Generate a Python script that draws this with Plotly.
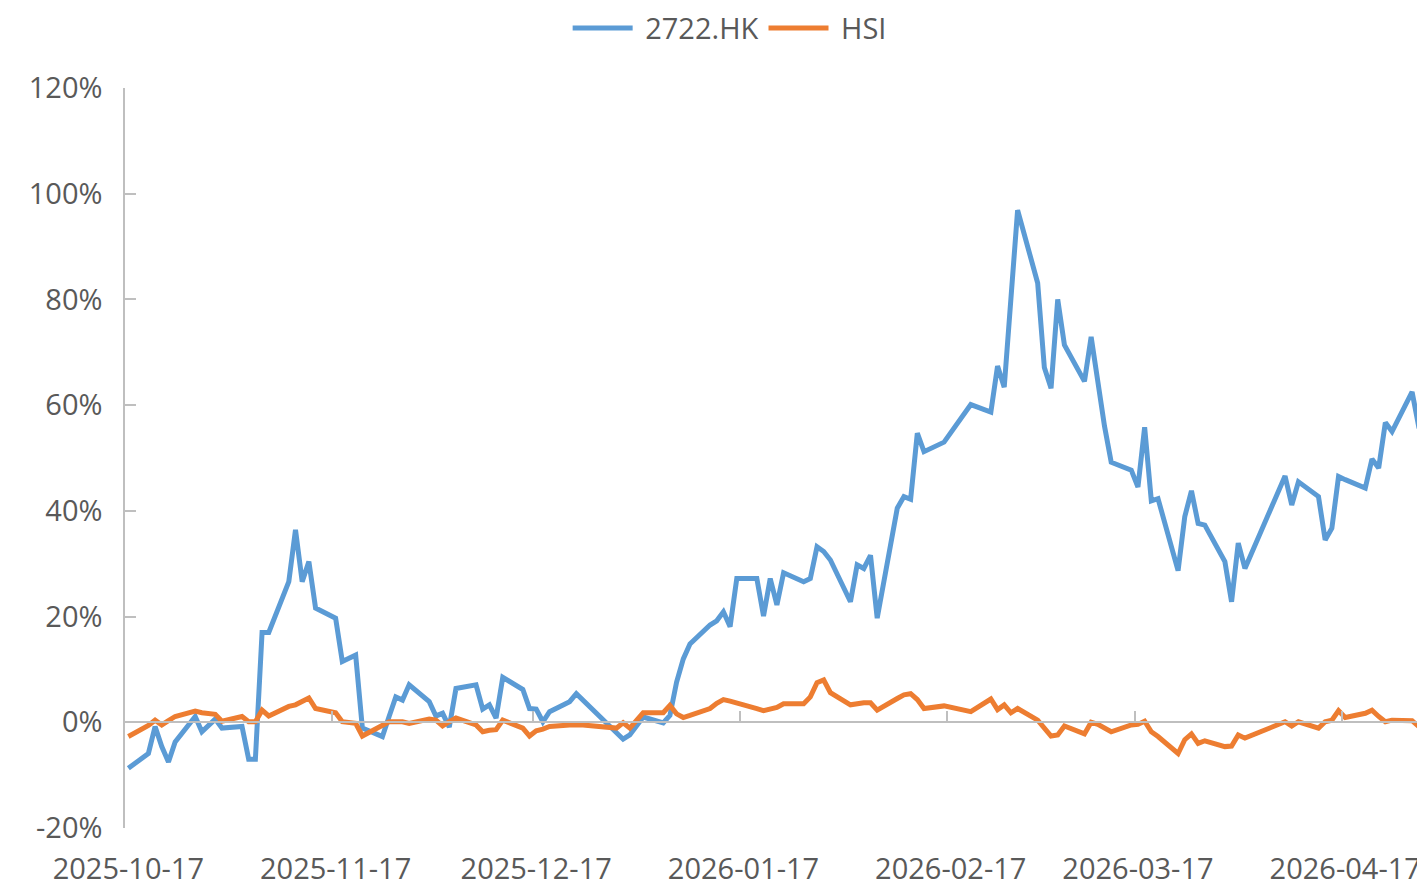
import pandas as pd
import plotly.graph_objects as go

dates = [
    "2025-10-17", "2025-10-20", "2025-10-21", "2025-10-22", "2025-10-23", "2025-10-24",
    "2025-10-27", "2025-10-28", "2025-10-30", "2025-10-31",
    "2025-11-03", "2025-11-04", "2025-11-05", "2025-11-06", "2025-11-07",
    "2025-11-10", "2025-11-11", "2025-11-12", "2025-11-13", "2025-11-14",
    "2025-11-17", "2025-11-18", "2025-11-19", "2025-11-20", "2025-11-21",
    "2025-11-24", "2025-11-25", "2025-11-26", "2025-11-27", "2025-11-28",
    "2025-12-01", "2025-12-02", "2025-12-03", "2025-12-04", "2025-12-05",
    "2025-12-08", "2025-12-09", "2025-12-10", "2025-12-11", "2025-12-12",
    "2025-12-15", "2025-12-16", "2025-12-17", "2025-12-18", "2025-12-19",
    "2025-12-22", "2025-12-23", "2025-12-24", "2025-12-29", "2025-12-30", "2025-12-31",
    "2026-01-02", "2026-01-05", "2026-01-06", "2026-01-07", "2026-01-08", "2026-01-09",
    "2026-01-12", "2026-01-13", "2026-01-14", "2026-01-15", "2026-01-16",
    "2026-01-19", "2026-01-20", "2026-01-21", "2026-01-22", "2026-01-23",
    "2026-01-26", "2026-01-27", "2026-01-28", "2026-01-29", "2026-01-30",
    "2026-02-02", "2026-02-03", "2026-02-04", "2026-02-05", "2026-02-06",
    "2026-02-09", "2026-02-10", "2026-02-11", "2026-02-12", "2026-02-13",
    "2026-02-16", "2026-02-20", "2026-02-23", "2026-02-24", "2026-02-25", "2026-02-26", "2026-02-27",
    "2026-03-02", "2026-03-03", "2026-03-04", "2026-03-05", "2026-03-06",
    "2026-03-09", "2026-03-10", "2026-03-11", "2026-03-12", "2026-03-13",
    "2026-03-16", "2026-03-17", "2026-03-18", "2026-03-19", "2026-03-20",
    "2026-03-23", "2026-03-24", "2026-03-25", "2026-03-26", "2026-03-27",
    "2026-03-30", "2026-03-31", "2026-04-01", "2026-04-02",
    "2026-04-08", "2026-04-09", "2026-04-10",
    "2026-04-13", "2026-04-14", "2026-04-15", "2026-04-16", "2026-04-17",
    "2026-04-20", "2026-04-21", "2026-04-22", "2026-04-23", "2026-04-24",
    "2026-04-27", "2026-04-28", "2026-04-29",
]

# cumulative return, %
stock_2722 = [
    -8.7, -5.9, -0.8, -4.6, -7.5, -3.7, 1.1, -1.8, 0.6, -1.1,
    -0.8, -7.0, -7.0, 17.0, 17.0, 26.6, 36.4, 26.6, 30.4, 21.6,
    19.7, 11.5, 12.1, 12.7, -1.1, -2.7, 1.1, 4.8, 4.2, 7.1,
    3.9, 1.2, 1.7, -0.9, 6.4, 7.1, 2.5, 3.3, 0.8, 8.5,
    6.2, 2.6, 2.5, 0.1, 2.0, 3.9, 5.4, 4.2, -2.0, -3.2, -2.4,
    1.0, -0.1, 1.3, 7.6, 12.0, 14.8, 18.4, 19.2, 20.9, 18.1, 27.2,
    27.2, 20.1, 27.2, 22.2, 28.3, 26.6, 27.2, 33.2, 32.3, 30.7,
    22.8, 29.8, 29.1, 31.6, 19.7, 40.5, 42.7, 42.2, 54.7, 51.2,
    53.0, 60.1, 58.7, 67.4, 63.4, 81.3, 96.9,
    83.1, 67.1, 63.2, 80.0, 71.4, 64.5, 72.9, 64.0, 56.0, 49.2,
    47.7, 44.5, 55.8, 41.9, 42.3, 28.7, 38.9, 43.8, 37.6, 37.3,
    30.4, 22.8, 33.9, 29.1,
    46.6, 41.1, 45.5, 42.7, 34.5, 36.7, 46.5, 45.9,
    44.3, 49.8, 48.1, 56.7, 55.0, 62.5, 55.9, 55.4,
]

hsi = [
    -2.7, -0.6, 0.4, -0.5, 0.3, 1.1, 2.1, 1.8, 1.5, 0.2,
    1.1, 0.1, 0.1, 2.3, 1.2, 3.0, 3.3, 3.9, 4.6, 2.6,
    1.8, 0.1, 0.0, -0.2, -2.6, -0.5, 0.1, 0.1, 0.1, -0.2,
    0.6, 0.4, -0.7, 0.1, 0.8, -0.5, -1.8, -1.5, -1.4, 0.4,
    -1.1, -2.6, -1.6, -1.3, -0.8, -0.5, -0.4, -0.5, -1.1, -0.1, -1.1,
    1.8, 1.8, 3.2, 1.6, 0.9, 1.3, 2.6, 3.6, 4.3, 4.0, 3.7,
    2.6, 2.2, 2.6, 2.8, 3.5, 3.5, 4.8, 7.5, 8.0, 5.6,
    3.3, 3.6, 3.7, 3.7, 2.3, 4.5, 5.2, 5.4, 4.3, 2.6,
    3.1, 2.0, 4.4, 2.4, 3.3, 1.8, 2.6,
    0.4, -1.1, -2.6, -2.4, -0.7, -2.2, 0.0, -0.4, -1.2, -1.8,
    -0.5, -0.4, 0.2, -1.8, -2.7, -5.9, -3.3, -2.2, -4.0, -3.5,
    -4.6, -4.5, -2.4, -3.0,
    0.1, -0.7, 0.1, -1.1, 0.1, 0.4, 2.2, 0.9,
    1.7, 2.3, 1.1, 0.1, 0.4, 0.3, -0.8, 1.2,
]

tick_labels = ["2025-10-17", "2025-11-17", "2025-12-17", "2026-01-17",
               "2026-02-17", "2026-03-17", "2026-04-17"]
y_ticks = [-20, 0, 20, 40, 60, 80, 100, 120]
y_tick_labels = ["-20%", "0%", "20%", "40%", "60%", "80%", "100%", "120%"]

series_names = ["2722.HK", "HSI"]
colors = ["#5B9BD5", "#ED7D31"]

# points sit in the middle of their day slot (date axis)
x_pts = pd.to_datetime(dates) + pd.Timedelta(hours=12)
tick_pos = pd.to_datetime(tick_labels)
x_range = ["2025-10-17 00:00", "2026-04-29 10:20"]

AXIS_GRAY = "#BFBFBF"
TEXT_GRAY = "#595959"
FONT = "Open Sans"

fig = go.Figure()
for name, vals, col in zip(series_names, [stock_2722, hsi], colors):
    fig.add_trace(go.Scatter(
        x=x_pts, y=vals, name="\u00a0" + name, mode="lines",
        line=dict(color=col, width=5),
    ))

# dummy trace so the zero-crossing axis is drawn
fig.add_trace(go.Scatter(x=[x_pts[0]], y=[None], xaxis="x2", yaxis="y",
                         showlegend=False, hoverinfo="skip", mode="lines"))

# page body has an 8px margin; figure sized so the plot fills the window
fig.update_layout(
    width=1417, height=880,
    margin=dict(l=117, r=0, t=80, b=60, autoexpand=False),
    plot_bgcolor="white", paper_bgcolor="white",
    font=dict(family=FONT, size=29, color=TEXT_GRAY),
    legend=dict(orientation="h", x=0.3405, xanchor="left", y=1.081, yanchor="middle",
                font=dict(family=FONT, size=29, color=TEXT_GRAY),
                itemwidth=60, bgcolor="rgba(0,0,0,0)"),
    xaxis=dict(
        type="date", range=x_range, showline=False, showgrid=False, zeroline=False,
        tickvals=tick_pos + pd.Timedelta(hours=12), ticktext=tick_labels,
        ticks="", ticklabelstandoff=21, automargin=False,
    ),
    xaxis2=dict(
        type="date", range=x_range, overlaying="x", anchor="free", position=20 / 140,
        side="bottom", showline=True, linecolor=AXIS_GRAY, linewidth=1.5,
        tickvals=tick_pos, showticklabels=False, ticks="inside", ticklen=11,
        tickcolor=AXIS_GRAY, tickwidth=1.5, showgrid=False, zeroline=False,
        automargin=False,
    ),
    yaxis=dict(
        range=[-20, 120], tickvals=y_ticks, ticktext=y_tick_labels,
        showline=True, linecolor=AXIS_GRAY, linewidth=1.5,
        ticks="inside", ticklen=11, tickcolor=AXIS_GRAY, tickwidth=1.5,
        showgrid=False, zeroline=False, ticklabelstandoff=15, automargin=False,
    ),
)

fig.write_html("out.html")
